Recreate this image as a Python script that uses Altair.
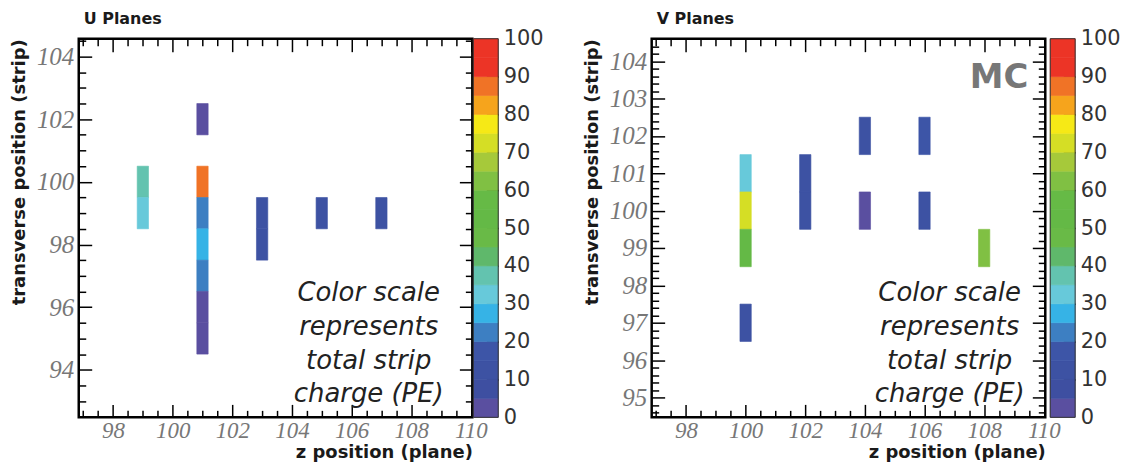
import altair as alt
import pandas as pd

# ---------------- data ----------------
u_plane = [99, 99, 101, 101, 101, 101, 101, 101, 101, 103, 103, 105, 107]
u_strip = [100, 99, 102, 100, 99, 98, 97, 96, 95, 99, 98, 99, 99]
u_pe = [37, 32, 3, 88, 22, 28, 22, 3, 3, 12, 12, 10, 10]

v_plane = [100, 100, 100, 100, 102, 102, 104, 104, 106, 106, 108]
v_strip = [101, 100, 99, 97, 101, 100, 102, 100, 102, 100, 99]
v_pe = [32, 72, 52, 12, 12, 12, 12, 4, 17, 12, 63]

# colour palette (one colour per 5 PE band, bottom to top)
levels = [0, 5, 10, 15, 20, 25, 30, 35, 40, 45, 50, 55, 60, 65, 70, 75, 80, 85, 90, 95, 100]
palette = ["#5a4fa0", "#3e4fa1", "#3d52a3", "#3d55a7", "#3d7fc2", "#36b3e6", "#67c9da",
           "#63c3af", "#5fb86b", "#69ba47", "#64b946", "#66ba46", "#80c043", "#a6c93a",
           "#d5de25", "#f6e916", "#f6a41c", "#f07326", "#ec3426", "#ec3426"]
cb_labels = [0, 10, 20, 30, 40, 50, 60, 70, 80, 90, 100]
cb_ticks = [10, 20, 30, 40, 50, 60, 70, 80, 90]

x_major = [98, 100, 102, 104, 106, 108, 110]
x_minor = [97 + 0.5 * i for i in range(26) if (97 + 0.5 * i) not in x_major]
u_y_major = [94, 96, 98, 100, 102, 104]
u_y_minor = [92.5 + 0.5 * i for i in range(25) if (92.5 + 0.5 * i) not in u_y_major]
v_y_major = [95, 96, 97, 98, 99, 100, 101, 102, 103, 104]
v_y_minor = [round(94.6 + 0.2 * i, 1) for i in range(51)]
v_y_minor = [v for v in v_y_minor if v not in v_y_major]

note_lines = ["Color scale", "represents", "total strip", "charge (PE)"]

PW, PH = 395, 380
CBW = 25
SANS = "DejaVu Sans"
SERIF = "Liberation Serif"

thr = alt.Scale(type="threshold", domain=levels[1:-1], range=palette)


def lab_axis(orient, values, title):
    bottom = orient == "bottom"
    return alt.Axis(orient=orient, values=values, ticks=False, domain=False, grid=False,
                    labelFont=SERIF, labelFontStyle="italic", labelFontSize=23 if bottom else 25,
                    labelColor="#777777", labelPadding=2 if bottom else 5,
                    labelFlush=False, labelOverlap=False, minExtent=0,
                    title=title, titleFont=SANS, titleFontSize=18, titleFontWeight="bold",
                    titleColor="#1a1a1a", titleAnchor="end",
                    titlePadding=1 if bottom else 8)


def tick_axis(orient, values, size, offset=None):
    return alt.Axis(orient=orient, values=values, labels=False, domain=False, grid=False,
                    tickSize=size, offset=-size if offset is None else offset,
                    tickColor="black", tickWidth=1.5, minExtent=0, maxExtent=0, title=None)


def panel(z, strip, pe, ydom, ymaj, ymin, title, note_x, mc, cb_x0):
    df = pd.DataFrame({"z": z, "strip": strip, "pe": pe})
    xs = alt.Scale(domain=[96.85, 110.05], nice=False, zero=False)
    ys = alt.Scale(domain=ydom, nice=False, zero=False)
    base = alt.Chart(df).transform_calculate(
        x0="datum.z - 0.19", x1="datum.z + 0.19",
        y0="datum.strip - 0.5", y1="datum.strip + 0.5")
    main = base.mark_rect(strokeWidth=0.6).encode(
        x=alt.X("x0:Q", scale=xs, axis=lab_axis("bottom", x_major, "z position (plane)")),
        x2="x1:Q",
        y=alt.Y("y0:Q", scale=ys, axis=lab_axis("left", ymaj, "transverse position (strip)")),
        y2="y1:Q",
        color=alt.Color("pe:Q", scale=thr, legend=None),
        stroke=alt.Stroke("pe:Q", scale=thr, legend=None),
    )

    def ticks(xo, yo, xv, yv, size):
        return base.mark_rect(opacity=0).encode(
            x=alt.X("x0:Q", scale=xs, axis=tick_axis(xo, xv, size)),
            x2="x1:Q",
            y=alt.Y("y0:Q", scale=ys, axis=tick_axis(yo, yv, size)),
            y2="y1:Q",
        )

    layers = [
        main,
        ticks("bottom", "left", x_major, ymaj, 13),
        ticks("bottom", "left", x_minor, ymin, 7),
        ticks("top", "right", x_major, ymaj, 13),
        ticks("top", "right", x_minor, ymin, 7),
    ]
    txt_df = pd.DataFrame({"a": [0]})
    layers.append(
        alt.Chart(txt_df).mark_text(font=SANS, fontSize=26, fontStyle="italic", color="#222222",
                                    lineHeight=34, align="center", baseline="middle")
        .encode(x=alt.value(note_x), y=alt.value(255), text=alt.value(note_lines))
    )
    if mc:
        layers.append(
            alt.Chart(txt_df).mark_text(font=SANS, fontSize=34, fontWeight="bold",
                                        color="#777777", align="right", baseline="middle")
            .encode(x=alt.value(378), y=alt.value(39), text=alt.value("MC"))
        )

    # ---- colour bar, drawn in the same view just right of the frame ----
    cb_df = pd.DataFrame({"lo": levels[:-1], "hi": levels[1:]})
    cys = alt.Scale(domain=[levels[0], levels[-1]], nice=False, zero=False)
    cxs = alt.Scale(domain=[0, 1], range=[cb_x0, cb_x0 + CBW], nice=False, zero=False)
    cb_base = alt.Chart(cb_df).transform_calculate(mid="datum.lo + 2.5", c0="0", c1="1")
    right_edge = cb_x0 + CBW - PW
    layers.append(cb_base.mark_rect(strokeWidth=0.6).encode(
        x=alt.X("c0:Q", scale=cxs, axis=None),
        x2="c1:Q",
        y=alt.Y("lo:Q", scale=cys,
                axis=alt.Axis(orient="right", values=cb_labels, ticks=False, domain=False,
                              grid=False, labelFont=SANS, labelFontSize=21, labelColor="#333333",
                              labelPadding=5, labelFlush=False, labelOverlap=False,
                              offset=right_edge, minExtent=0, title=None)),
        y2="hi:Q",
        color=alt.Color("mid:Q", scale=thr, legend=None),
        stroke=alt.Stroke("mid:Q", scale=thr, legend=None),
    ))
    layers.append(cb_base.mark_rect(opacity=0).encode(
        x=alt.X("c0:Q", scale=cxs, axis=None),
        x2="c1:Q",
        y=alt.Y("lo:Q", scale=cys, axis=tick_axis("right", cb_ticks, 12, right_edge - 12)),
        y2="hi:Q",
    ))
    frame_df = pd.DataFrame({"lo": [levels[0]], "hi": [levels[-1]]})
    layers.append(
        alt.Chart(frame_df).transform_calculate(c0="0", c1="1")
        .mark_rect(fillOpacity=0, stroke="#333333", strokeWidth=1)
        .encode(x=alt.X("c0:Q", scale=cxs, axis=None), x2="c1:Q",
                y=alt.Y("lo:Q", scale=cys, axis=None), y2="hi:Q")
    )

    return alt.layer(*layers).resolve_scale(x="independent", y="independent").resolve_axis(
        x="independent", y="independent").properties(
        width=PW, height=PH,
        title=alt.TitleParams(title, anchor="start", frame="group", dx=5, offset=1,
                              font=SANS, fontSize=16, fontWeight="bold", color="#1a1a1a"),
        view=alt.ViewBackground(stroke="black", strokeWidth=2.5),
    )


uL = panel(u_plane, u_strip, u_pe, [92.48, 104.57], u_y_major, u_y_minor, "U Planes", 291, False, 396)
vL = panel(v_plane, v_strip, v_pe, [94.47, 104.6], v_y_major, v_y_minor, "V Planes", 299, True, 400)

chart = alt.hconcat(uL, vL, spacing=37).properties(
    padding={"left": 1, "top": 0, "right": 0, "bottom": 0}
).configure(background="white")

chart.save("out.html", embed_options={"renderer": "svg", "actions": False})
